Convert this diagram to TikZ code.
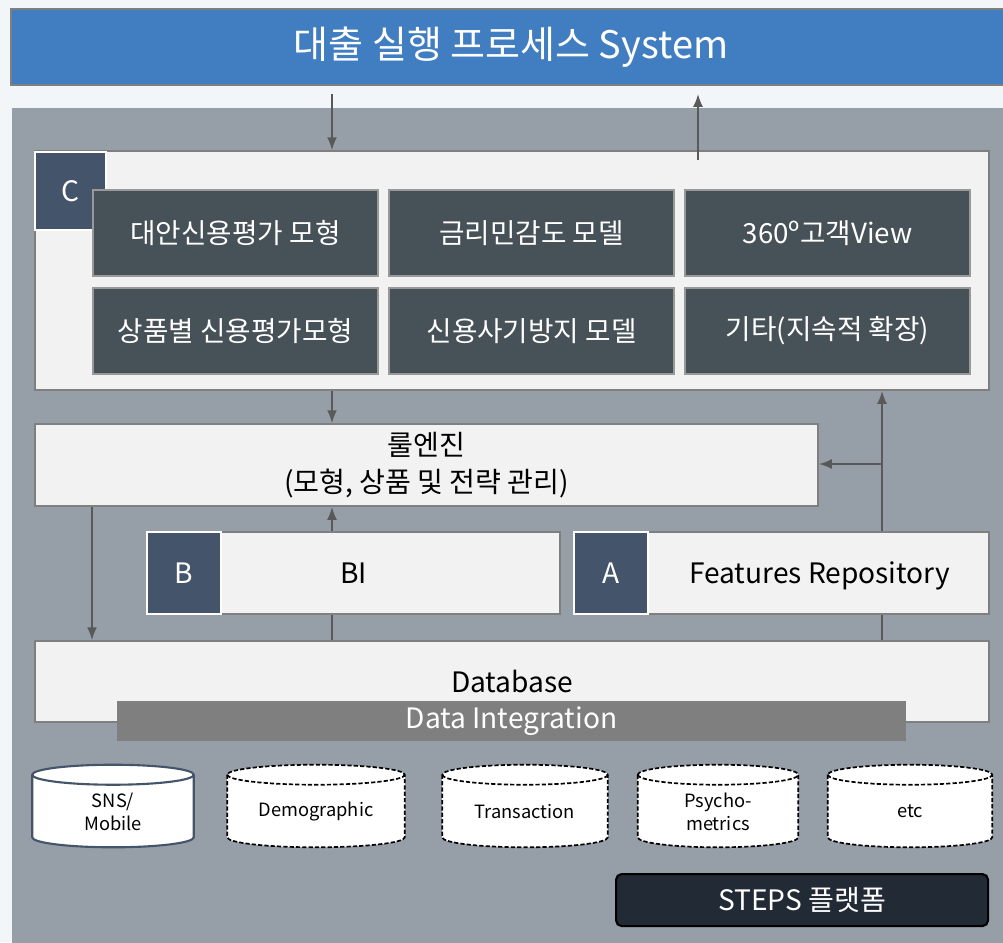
\documentclass[tikz,border=0pt]{standalone}
\usepackage{fontspec}
\setmainfont{Noto Sans CJK KR}
\usetikzlibrary{calc,arrows.meta}

\definecolor{bgpage}{HTML}{F3F6F9}
\definecolor{sysblue}{HTML}{417DC1}
\definecolor{panelgray}{HTML}{969EA8}
\definecolor{boxlight}{HTML}{F2F2F2}
\definecolor{boxedge}{HTML}{7F7F7F}
\definecolor{modeldark}{HTML}{475158}
\definecolor{tagblue}{HTML}{44546A}
\definecolor{linkgray}{HTML}{595959}
\definecolor{stepsdark}{HTML}{222A35}
\newcommand{\px}{0.025cm}

\begin{document}
\begin{tikzpicture}[x=\px,y=-\px,
  box/.style={draw=boxedge,line width=1.5pt,fill=boxlight,inner sep=0pt,anchor=north west,font=\fontsize{20}{28}\selectfont},
  model/.style={draw=boxedge!80,line width=1.5pt,fill=modeldark,text=white,inner sep=0pt,anchor=north west,
    minimum width=285*\px,minimum height=86*\px,font=\fontsize{19.7}{24}\selectfont},
  tag/.style={draw=white,line width=1.5pt,fill=tagblue,text=white,inner sep=0pt,anchor=north west,font=\fontsize{20}{24}\selectfont},
  store/.style={inner sep=0pt,align=center,minimum height=82*\px,font=\fontsize{13}{16}\selectfont},
  solidstore/.style={draw=tagblue,fill=white,line width=1.5pt},
  planned/.style={draw=black,fill=white,line width=1.2pt,dash pattern=on 3pt off 1.5pt},
  link/.style={linkgray,line width=1pt},
  arrow/.style={link,-{Latex[length=9pt,width=7pt]}}]
  \clip (0,0) rectangle (1003,942);
  \fill[bgpage] (0,0) rectangle (1003,942);

  \node[box,fill=sysblue,text=white,minimum width=1000*\px,minimum height=76*\px,font=\fontsize{27}{32}\selectfont] (sys) at (10,8) {대출 실행 프로세스 System};
  \node[fill=panelgray,anchor=north west,minimum width=1000*\px,minimum height=840*\px] (platform) at (12,108) {};

  % C: models
  \node[box,minimum width=954*\px,minimum height=239*\px] (cbox) at (34,150) {};
  \node[tag,minimum width=71*\px,minimum height=78*\px] (ctag) at (34,151) {C};
  \node[model] (alt) at (92,189) {대안신용평가 모형};
  \node[model] (rate) at (388,189) {금리민감도 모델};
  \node[model] (view) at (684,189) {360º고객View};
  \node[model] (prod) at (92,287) {상품별 신용평가모형};
  \node[model] (fraud) at (388,287) {신용사기방지 모델};
  \node[model] (etc) at (684,287) {기타(지속적 확장)};

  \node[box,align=center,minimum width=783*\px,minimum height=82*\px] (rule) at (34,423) {룰엔진\\[-2pt](모형, 상품 및 전략 관리)};

  % B and A
  \node[box,minimum width=413*\px,minimum height=82*\px] (bi) at (146,531) {BI};
  \node[tag,minimum width=74*\px,minimum height=82*\px] (btag) at (146,531) {B};
  \node[box,minimum width=415*\px,minimum height=82*\px] (fr) at (573,531) {};
  \node[tag,minimum width=74*\px,minimum height=82*\px] (atag) at (573,531) {A};
  \node[font=\fontsize{20}{24}\selectfont,yshift=-2pt] (frtext) at ($(atag.east)!0.5!(fr.east)$) {Features Repository};

  \node[box,minimum width=954*\px,minimum height=81*\px] (db) at (34,640) {Database};
  \node[box,draw=none,fill=boxedge,text=white,minimum width=789*\px,minimum height=40*\px] (integ) at (116,700) {Data Integration};

  % sources
  \node[store,minimum width=161*\px] (sns) at (113,806) {};
  \node[store,minimum width=177*\px] (demo) at (316,806) {};
  \node[store,minimum width=165*\px] (trans) at (525,806) {};
  \node[store,minimum width=160*\px] (psy) at (718,806) {};
  \node[store,minimum width=164*\px] (other) at (910,806) {};
  \foreach \cyl/\look in {sns/solidstore,demo/planned,trans/planned,psy/planned,other/planned}{
    \draw[\look] let \p1=($(\cyl.east)-(\cyl.west)$) in
      ($(\cyl.north west)+(0,10)$) -- ($(\cyl.south west)+(0,-10)$)
      arc[start angle=180,end angle=360,x radius=0.5*\x1,y radius=10*\px]
      -- ($(\cyl.north east)+(0,10)$)
      arc[start angle=0,end angle=180,x radius=0.5*\x1,y radius=10*\px] -- cycle;
    \draw[\look,fill=none] let \p1=($(\cyl.east)-(\cyl.west)$) in ($(\cyl.north west)+(0,10)$)
      arc[start angle=180,end angle=360,x radius=0.5*\x1,y radius=10*\px];
  }
  \node[store,yshift=-4pt] (snstext) at (sns) {SNS/\\Mobile};
  \node[store,yshift=-4pt] (demotext) at (demo) {Demographic};
  \node[store,yshift=-4pt] (transtext) at (trans) {Transaction};
  \node[store,yshift=-4pt] (psytext) at (psy) {Psycho-\\metrics};
  \node[store,yshift=-4pt] (othertext) at (other) {etc};

  \node[box,draw=black,fill=stepsdark,text=white,rounded corners=4pt,minimum width=372*\px,minimum height=52*\px] (steps) at (615,873) {STEPS 플랫폼};

  \coordinate (colD) at (92,0);
  \coordinate (colL) at (332,0);
  \coordinate (colU) at (698,0);
  \coordinate (colR) at (882,0);
  \coordinate (midR) at (0,464);

  \draw[arrow] ($(sys.south -| colL)+(0,8)$) -- (cbox.north -| colL);
  \draw[arrow] ($(cbox.north -| colU)+(0,10)$) -- ($(sys.south -| colU)+(0,8)$);
  \draw[arrow] (cbox.south -| colL) -- (rule.north -| colL);
  \draw[arrow] (rule.south -| colD) -- (db.north -| colD);
  \draw[arrow] (bi.north -| colL) -- (rule.south -| colL);
  \draw[link] (db.north -| colL) -- (bi.south -| colL);
  \draw[link] (db.north -| colR) -- (fr.south -| colR);
  \draw[arrow] (fr.north -| colR) -- (cbox.south -| colR);
  \draw[arrow] (colR |- midR) -- (rule.east |- midR);
\end{tikzpicture}
\end{document}
